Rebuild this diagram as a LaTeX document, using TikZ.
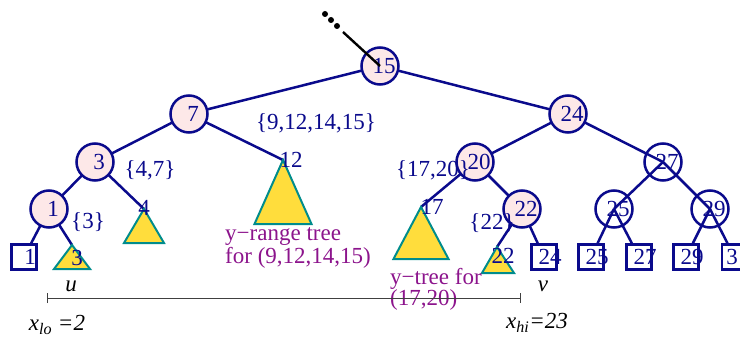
\documentclass[tikz,border=0pt]{standalone}
\usepackage{fontspec}
\setmainfont{Liberation Serif}
\usetikzlibrary{arrows.meta}
\definecolor{navy}{RGB}{10,10,140}
\definecolor{pinkfill}{RGB}{253,232,232}
\definecolor{trifill}{RGB}{255,221,60}
\definecolor{triline}{RGB}{0,140,140}
\definecolor{notecol}{RGB}{140,20,140}
\pgfdeclarelayer{back}
\pgfsetlayers{back,main}

\begin{document}
\begin{tikzpicture}[x=1pt, y=-1pt, navy, line width=2.5pt,
  font=\fontsize{23}{23}\selectfont,
  pnode/.style={circle, draw, fill=pinkfill, minimum size=37pt, inner sep=0pt, label={[xshift=4pt]center:#1}},
  onode/.style={circle, draw, minimum size=37pt, inner sep=0pt, label={[xshift=4pt]center:#1}},
  leaf/.style={draw, minimum size=25pt, inner sep=0pt, label={[xshift=6pt]center:#1}},
  edge/.style={draw=navy, line width=2.5pt},
  tri/.style={draw=triline, fill=trifill, line width=2pt},
  note/.style={text=notecol, align=left, anchor=west, inner sep=0pt, font=\fontsize{23}{21}\selectfont},
  dot/.style={circle, fill=black, inner sep=0pt, minimum size=6pt}]
  \useasboundingbox (0,0) rectangle (740,337);

  \node[pnode=15] (n15) at (380,66) {};
  \node[pnode=7] (n7) at (189,114) {};
  \node[pnode=24] (n24) at (568,114) {};
  \node[pnode=3] (n3) at (95,162) {};
  \node[pnode=20] (n20) at (475,162) {};
  \node[onode=27] (n27) at (663,162) {};
  \node[pnode=1] (n1) at (49,209) {};
  \node[pnode=22] (n22) at (522,209) {};
  \node[onode=25] (n25) at (614,209) {};
  \node[onode=29] (n29) at (710,209) {};

  \node[leaf=1] (s1) at (24,257) {};
  \node[leaf=24] (s24) at (544,257) {};
  \node[leaf=25] (s25) at (591,257) {};
  \node[leaf=27] (s27) at (639,257) {};
  \node[leaf=29] (s29) at (686,257) {};
  \node[leaf] (s3) at (734.5,257) {};
  \node (l31) at (732,257) {3};

  \coordinate (t3) at (72,245);
  \coordinate (t4) at (144,209);
  \coordinate (t12) at (283,160);
  \coordinate (t17) at (421,207);
  \coordinate (t22) at (497,247);
  \filldraw[tri] (t3) -- ++(-18,24) -- ++(36,0) -- cycle;
  \filldraw[tri] (t4) -- ++(-20,34) -- ++(40,0) -- cycle;
  \filldraw[tri] (t12) -- ++(-28.5,64) -- ++(57,0) -- cycle;
  \filldraw[tri] (t17) -- ++(-27.5,52) -- ++(55,0) -- cycle;
  \filldraw[tri] (t22) -- ++(-15,26) -- ++(32,0) -- cycle;
  \node (l3) at (77,258) {3};
  \node (l4) at (144,208) {4};
  \node (l12) at (291,160) {12};
  \node (l17) at (432,207) {17};
  \node (l22) at (503,256) {22};

  \begin{pgfonlayer}{back}
    \draw[edge] (n15.center) -- (n7.center);
    \draw[edge] (n15.center) -- (n24.center);
    \draw[edge] (n7.center) -- (n3.center);
    \draw[edge] (n7.center) -- (t12);
    \draw[edge] (n3.center) -- (n1.center);
    \draw[edge] (n3.center) -- (t4);
    \draw[edge] (n1.center) -- (s1);
    \draw[edge] (n1.center) -- (t3);
    \draw[edge] (n24.center) -- (n20.center);
    \draw[edge] (n24.center) -- (n27.center);
    \draw[edge] (n20.center) -- (t17);
    \draw[edge] (n20.center) -- (n22.center);
    \draw[edge] (n22.center) -- (t22);
    \draw[edge] (n22.center) -- (s24);
    \draw[edge] (n27.center) -- (n25.center);
    \draw[edge] (n27.center) -- (n29.center);
    \draw[edge] (n25.center) -- (s25);
    \draw[edge] (n25.center) -- (s27);
    \draw[edge] (n29.center) -- (s29);
    \draw[edge] (n29.center) -- (s3);
  \end{pgfonlayer}

  \node[dot] (d1) at (325,14) {};
  \node[dot] (d2) at (331,20) {};
  \node[dot] (d3) at (337,26) {};
  \coordinate (up) at (343,32);
  \draw[black, line width=2.4pt] (up) -- (n15.center);

  \node (set912) at (316,123) {\{9,12,14,15\}};
  \node (set47) at (150,170) {\{4,7\}};
  \node (set3) at (88,222) {\{3\}};
  \node (set1720) at (433,170) {\{17,20\}};
  \node (set22) at (492,223) {\{22\}};

  \node[note] (yrange) at (225,248) {y−range tree\\for (9,12,14,15)};
  \node[note] (ytree) at (390,289) {y−tree for\\(17,20)};

  \node[black, font=\fontsize{23}{23}\itshape] (u) at (71,286) {u};
  \node[black, font=\fontsize{23}{23}\itshape] (v) at (543,286) {v};
  \coordinate (lo) at (47,298);
  \coordinate (hi) at (521,298);
  \draw[black!75, line width=0.9pt, {Bar[width=10pt]}-{Bar[width=10pt]}] (lo) -- (hi);
  \node[black, font=\fontsize{23}{23}\itshape] (xlo) at (57,325) {x\textsubscript{lo} =2};
  \node[black, font=\fontsize{23}{23}\itshape] (xhi) at (537,323) {x\textsubscript{hi}=23};
\end{tikzpicture}
\end{document}
